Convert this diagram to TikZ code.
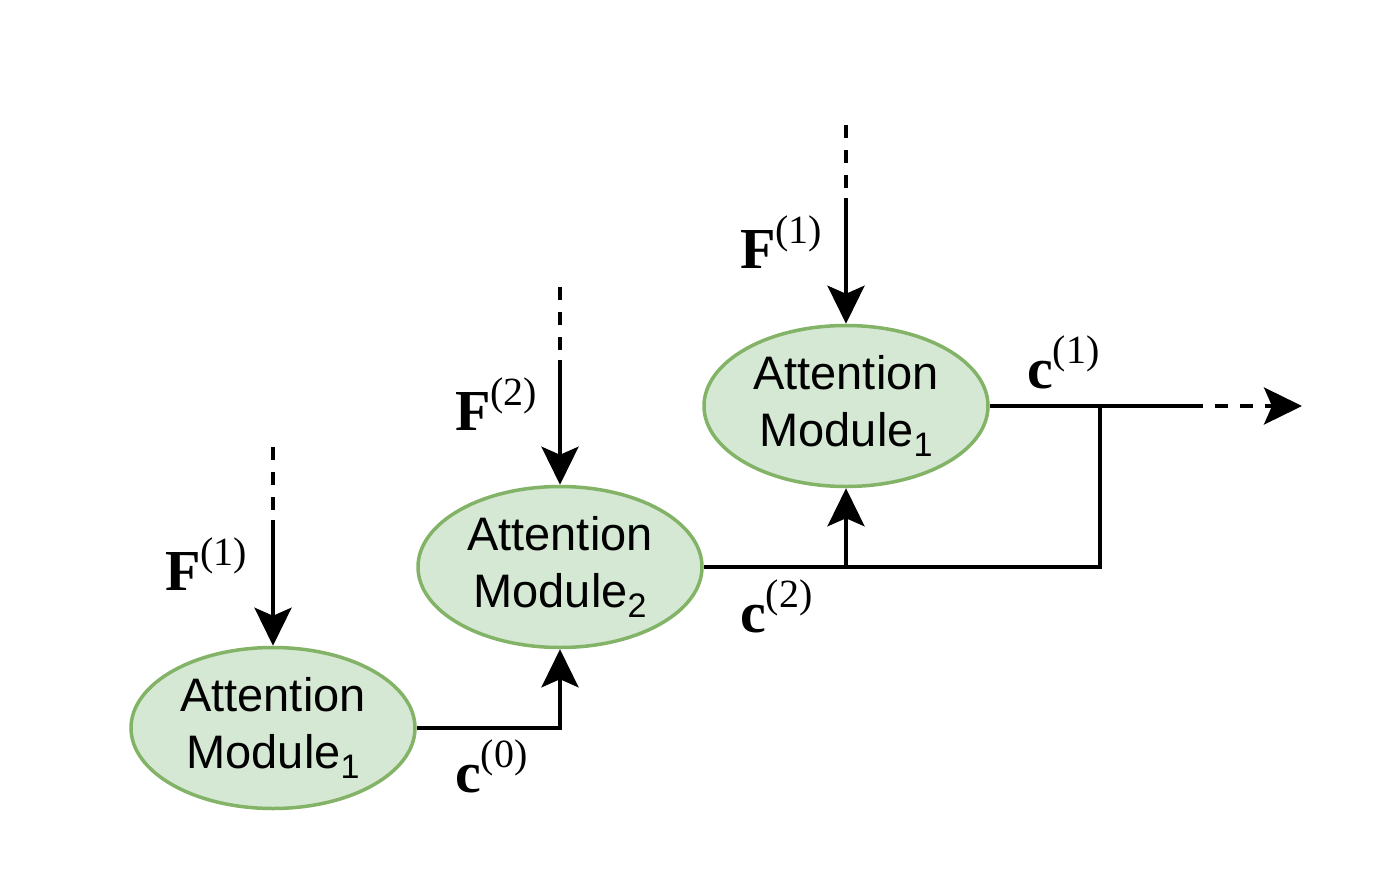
\documentclass[tikz,border=0pt]{standalone}
\usepackage{fontspec}
\setmainfont{Liberation Serif}
\newfontfamily\modfont{Liberation Sans}
\usetikzlibrary{arrows.meta,shapes.geometric}
\definecolor{modfill}{HTML}{D5E8D4}
\definecolor{moddraw}{HTML}{82B366}
\newcommand{\supx}[1]{{\fontsize{40}{40}\selectfont\raisebox{25pt}{(#1)}}}
\newcommand{\subx}[1]{{\fontsize{34}{34}\selectfont\raisebox{-10pt}{#1}}}
\tikzset{headtip/.tip={Stealth[length=38pt,width=37pt,inset=8pt]}}
\begin{document}
\begin{tikzpicture}[x=1pt,y=-1pt,
  module/.style={ellipse, draw=moddraw, fill=modfill, line width=3.5pt,
    minimum width=284pt, minimum height=161pt, inner sep=0pt, align=center,
    font=\modfont\fontsize{47}{57}\selectfont},
  lbl/.style={anchor=base west, inner sep=0pt, font=\fontsize{58}{58}\selectfont},
  conn/.style={line width=3.8pt},
  arr/.style={line width=3.8pt, -headtip},
  dashline/.style={line width=3.8pt, dash pattern=on 13pt off 12pt}]
\useasboundingbox (0,0) rectangle (1373,891);
\node[module] (A) at (273,728) {Attention\\Module\subx{1}};
\node[module] (B) at (560,567) {Attention\\Module\subx{2}};
\node[module] (C) at (846,406) {Attention\\Module\subx{1}};
% inputs
\coordinate (at) at (273,447); \coordinate (am) at (273,520);
\coordinate (bt) at (560,287); \coordinate (bm) at (560,360);
\coordinate (ct) at (846,125); \coordinate (cm) at (846,198);
\draw[dashline] (at) -- (am);
\draw[arr] (am) -- (A.north);
\draw[dashline] (bt) -- (bm);
\draw[arr] (bm) -- (B.north);
\draw[dashline] (ct) -- (cm);
\draw[arr] (cm) -- (C.north);
% chain
\draw[arr] (A.east) -| (B.south);
\coordinate (K) at (846,567);
\coordinate (J) at (1100,406);
\draw[conn] (B.east) -| (J);
\draw[arr] (K) -- (C.south);
\coordinate (D) at (1190,406);
\coordinate (E) at (1302,406);
\draw[conn] (C.east) -- (D);
\draw[dashline, -headtip] (D) -- (E);
% labels
\node[lbl] (fa) at (165,590) {\textbf{F}\supx{1}};
\node[lbl] (fb) at (455,430) {\textbf{F}\supx{2}};
\node[lbl] (fc) at (740,268) {\textbf{F}\supx{1}};
\node[lbl] (c0) at (455,792) {\textbf{c}\supx{0}};
\node[lbl] (c2) at (740,632) {\textbf{c}\supx{2}};
\node[lbl] (c1) at (1027,388) {\textbf{c}\supx{1}};
\end{tikzpicture}
\end{document}
